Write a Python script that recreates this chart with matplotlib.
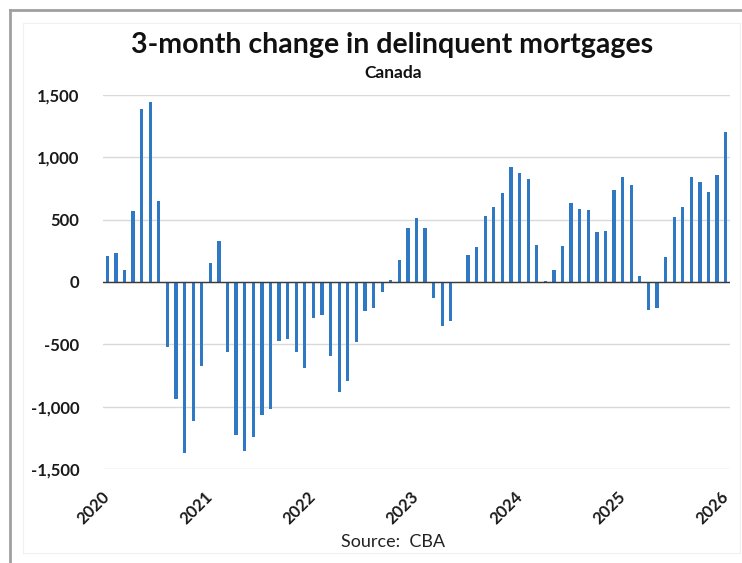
import matplotlib
matplotlib.use("Agg")
import matplotlib.pyplot as plt
from matplotlib.lines import Line2D
from matplotlib.patches import Rectangle
from matplotlib.ticker import FuncFormatter

plt.rcParams["font.family"] = ["Lato", "DejaVu Sans"]

# Monthly 3-month change in delinquent mortgages, Jan 2020 .. Jan 2026
changes_2020 = [210, 230, 100, 570, 1390, 1440, 650, -520, -940, -1370, -1115, -670]
changes_2021 = [150, 325, -560, -1230, -1355, -1245, -1065, -1020, -470, -455, -560, -690]
changes_2022 = [-285, -265, -590, -885, -795, -480, -230, -210, -80, 20, 175, 435]
changes_2023 = [510, 435, -130, -355, -315, -10, 215, 280, 530, 600, 715, 920]
changes_2024 = [875, 825, 300, 5, 95, 290, 630, 585, 575, 400, 410, 740]
changes_2025 = [845, 780, 45, -225, -210, 200, 520, 600, 840, 805, 720, 860]
changes_2026 = [1205]

values = (changes_2020 + changes_2021 + changes_2022 + changes_2023
          + changes_2024 + changes_2025 + changes_2026)
years = ["2020", "2021", "2022", "2023", "2024", "2025", "2026"]
y_ticks = [-1500, -1000, -500, 0, 500, 1000, 1500]

W, H = 742, 563
fig = plt.figure(figsize=(W / 100, H / 100), dpi=100)
ax = fig.add_axes([103 / W, 1 - 469 / H, (730 - 103) / W, (469 - 95) / H])

months = list(range(len(values)))
ax.bar(months, values, width=0.38, color="#2f78c4", zorder=3)

ax.set_xlim(-0.5, len(values) - 0.5)
ax.set_ylim(-1500, 1500)
ax.set_yticks(y_ticks)
ax.yaxis.set_major_formatter(FuncFormatter(lambda v, _: f"{int(v):,}"))
ax.grid(axis="y", color="#d9d9d9", linewidth=1.0, zorder=0)
ax.axhline(0, color="#3a3a3a", linewidth=1.0, zorder=4)

ax.set_xticks([12 * i for i in range(len(years))])
ax.set_xticklabels(years, rotation=45, ha="right", va="center",
                   rotation_mode="anchor")
ax.tick_params(axis="x", length=0, pad=18, labelsize=12)
ax.tick_params(axis="y", length=0, pad=17, labelsize=12)
for lbl in ax.get_xticklabels() + ax.get_yticklabels():
    lbl.set_fontweight("bold")
    lbl.set_color("#1a1a1a")

for spine in ax.spines.values():
    spine.set_visible(False)

fig.text(392 / W, 1 - 45 / H, "3-month change in delinquent mortgages",
         ha="center", va="center", fontsize=20.5, fontweight="bold", color="#111111")
fig.text(393 / W, 1 - 73 / H, "Canada", ha="center", va="center",
         fontsize=12.5, fontweight="bold", color="#111111")
fig.text(393 / W, 1 - 542 / H, "Source:  CBA", ha="center", va="center",
         fontsize=13, color="#222222")

# outer frame lines and faint inner chart-area box
fig.add_artist(Line2D([10 / W, 1], [1 - 10 / H, 1 - 10 / H],
                      color="#a0a0a0", linewidth=2, transform=fig.transFigure))
fig.add_artist(Line2D([10 / W, 10 / W], [0, 1 - 10 / H],
                      color="#a0a0a0", linewidth=2, transform=fig.transFigure))
fig.add_artist(Rectangle((23 / W, 1 - 553 / H), (740 - 23) / W, (553 - 23) / H,
                         fill=False, edgecolor="#f0f0f0", linewidth=0.8,
                         transform=fig.transFigure))

fig.savefig("out.png", dpi=100, facecolor="white")
